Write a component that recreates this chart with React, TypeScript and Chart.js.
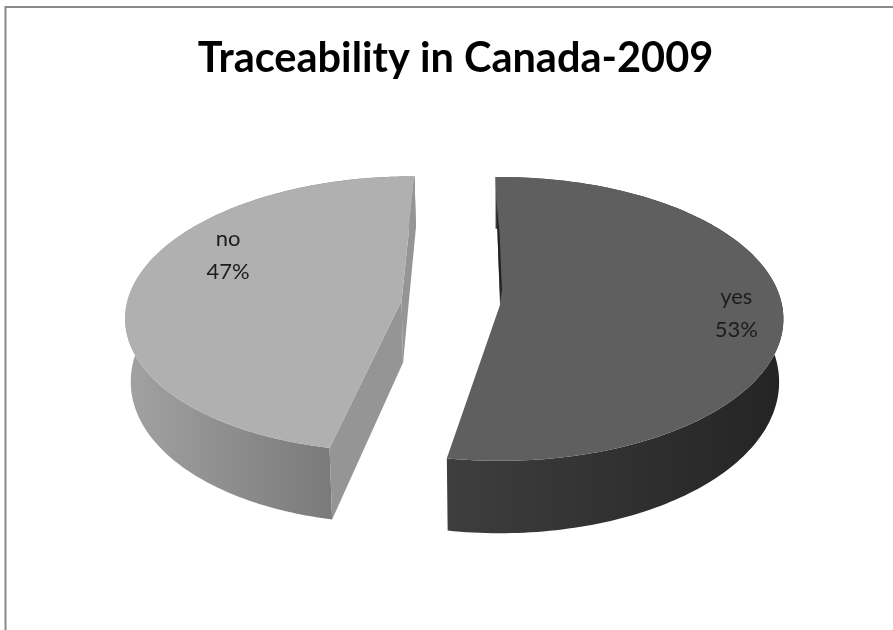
import { useEffect, useRef } from "react";
import { Chart, registerables } from "chart.js";

Chart.register(...registerables);

const categories = ["yes", "no"];
const shares = [53, 47];
const chartTitle = "Traceability in Canada-2009";

const FONT = "Lato, 'Open Sans', sans-serif";

// Projection of the pie plane onto the canvas
const CX = 500;
const CY = 305;
const RX = 282;
const RY = 140.5;
const PERSPECTIVE = 0.0985;
const WALL_HEIGHT = 62;
const WALL_GROWTH = 0.167;
const FLOOR_SHRINK = 0.985;

// Per-slice look
const sliceCentres: [number, number][] = [[0, 0], [-0.35, -0.03]];
const sliceRadii = [1, 0.975];
const sliceTwist = [-1, 1];
const topColours = ["#5f5f5f", "#b0b0b0"];
const rimColours: [string, string][] = [["#3e3e3e", "#242424"], ["#a2a2a2", "#6a6a6a"]];
const cutColours = ["#222222", "#959595"];
const labelAngles = [4.3, 207.3];
const labelRadii = [0.835, 0.73];

type P = [number, number];

function top(u: number, v: number): P {
  const s = 1 - PERSPECTIVE * v;
  return [CX + (RX * u) / s, CY + (RY * v) / s];
}

function floor(u: number, v: number): P {
  const [x, y] = top(u, v);
  return [CX + (x - CX) * FLOOR_SHRINK, y + WALL_HEIGHT * (1 + WALL_GROWTH * v)];
}

function trace(ctx: CanvasRenderingContext2D, pts: P[]) {
  ctx.beginPath();
  pts.forEach(([x, y], i) => (i ? ctx.lineTo(x, y) : ctx.moveTo(x, y)));
  ctx.closePath();
}

function rimPoints(c: P, r: number, a0: number, a1: number, map: (u: number, v: number) => P): P[] {
  const steps = 160;
  const out: P[] = [];
  for (let i = 0; i <= steps; i++) {
    const a = a0 + ((a1 - a0) * i) / steps;
    out.push(map(c[0] + r * Math.cos(a), c[1] + r * Math.sin(a)));
  }
  return out;
}

const pie3d = {
  id: "pie3d",
  beforeDraw(chart: Chart) {
    const { ctx, width, height } = chart;
    ctx.save();
    ctx.fillStyle = "#ffffff";
    ctx.fillRect(0, 0, width, height);
    ctx.strokeStyle = "#8a8a8a";
    ctx.lineWidth = 2;
    ctx.beginPath();
    ctx.moveTo(5.5, height);
    ctx.lineTo(5.5, 7);
    ctx.lineTo(width, 7);
    ctx.stroke();
    ctx.restore();
  },
  beforeDatasetsDraw(chart: Chart) {
    const { ctx } = chart;
    const arcs = chart.getDatasetMeta(0).data as any[];
    ctx.save();
    arcs.forEach((arc, i) => {
      const { startAngle, endAngle } = arc.getProps(["startAngle", "endAngle"], true);
      const twist = (sliceTwist[i] * Math.PI) / 180;
      const a0 = startAngle + twist;
      const a1 = endAngle + twist;
      const c = sliceCentres[i];
      const r = sliceRadii[i];
      const upper = rimPoints(c, r, a0, a1, top);
      const lower = rimPoints(c, r, a0, a1, floor);

      // Outer rim, shaded from left to right
      const xs = upper.map((p) => p[0]);
      const grad = ctx.createLinearGradient(Math.min(...xs), 0, Math.max(...xs), 0);
      grad.addColorStop(0, rimColours[i][0]);
      grad.addColorStop(1, rimColours[i][1]);
      ctx.fillStyle = grad;
      trace(ctx, [...upper, ...lower.slice().reverse()]);
      ctx.fill();

      // Cut faces of the exploded slice
      if (i === 1) {
        ctx.fillStyle = cutColours[i];
        const apexT = top(c[0], c[1]);
        const apexB = floor(c[0], c[1]);
        trace(ctx, [apexT, upper[0], lower[0], apexB]);
        ctx.fill();
        trace(ctx, [apexT, upper[upper.length - 1], lower[lower.length - 1], apexB]);
        ctx.fill();
      }

      // Top face
      ctx.fillStyle = topColours[i];
      trace(ctx, [top(c[0], c[1]), ...upper]);
      ctx.fill();

      // Dark sliver of the back wall beside the centre of the large slice
      if (i === 0) {
        ctx.fillStyle = cutColours[i];
        trace(ctx, [top(-0.014, -0.8), top(-0.002, -0.55), top(0.007, -0.11), top(0.001, -0.02), top(-0.00525, -0.3)]);
        ctx.fill();
      }

      // Data label
      const la = (labelAngles[i] * Math.PI) / 180;
      const [lx, ly] = top(c[0] + labelRadii[i] * Math.cos(la), c[1] + labelRadii[i] * Math.sin(la));
      const total = shares.reduce((s, v) => s + v, 0);
      ctx.fillStyle = "#1c1c1c";
      ctx.font = `22px ${FONT}`;
      ctx.textAlign = "center";
      ctx.textBaseline = "middle";
      ctx.fillText(categories[i], lx, ly - 17);
      ctx.fillText(`${Math.round((shares[i] / total) * 100)}%`, lx, ly + 16);
    });
    ctx.restore();
    return false;
  },
};

export default function App() {
  const ref = useRef<HTMLCanvasElement>(null);

  useEffect(() => {
    document.documentElement.style.overflow = "hidden";
    const chart = new Chart(ref.current!, {
      type: "pie",
      data: {
        labels: categories,
        datasets: [{ data: shares, backgroundColor: topColours }],
      },
      options: {
        animation: false,
        responsive: false,
        events: [],
        layout: { padding: { left: 18 } },
        plugins: {
          legend: { display: false },
          tooltip: { enabled: false },
          title: {
            display: true,
            text: chartTitle,
            color: "#000000",
            font: { family: FONT, size: 41.5, weight: "bold" },
            padding: { top: 34, bottom: 10 },
          },
        },
      },
      plugins: [pie3d],
    });
    return () => chart.destroy();
  }, []);

  return (
    <canvas
      ref={ref}
      width={893}
      height={630}
      style={{ position: "absolute", left: 0, top: 0, display: "block" }}
    />
  );
}
